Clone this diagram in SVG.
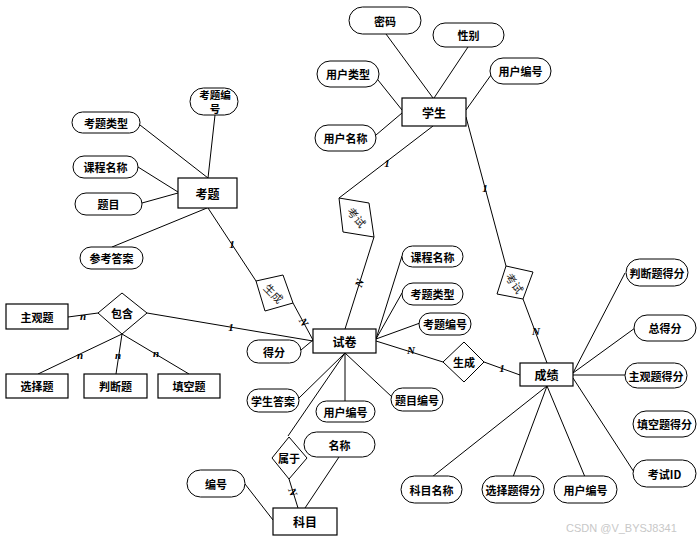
<svg xmlns="http://www.w3.org/2000/svg" width="700" height="541" viewBox="0 0 700 541">
<style>
.ent{fill:#fff;stroke:#000;stroke-width:1.2}
.att{fill:#fff;stroke:#000;stroke-width:1}
.rel{fill:#fff;stroke:#000;stroke-width:1}
.t{font-family:"Noto Sans CJK SC","Liberation Sans",sans-serif;font-size:11px;font-weight:bold;fill:#000;text-anchor:middle;dominant-baseline:central}
.te{font-size:12px}
.ts{font-size:10.5px}
.tr{font-family:"Noto Sans CJK SC","Liberation Sans",sans-serif;font-size:11px;fill:#222;text-anchor:middle;dominant-baseline:central}
.c{font-family:"Liberation Serif",serif;font-style:italic;font-weight:bold;font-size:11px;fill:#000;text-anchor:middle;dominant-baseline:central}
#links line{stroke:#000;stroke-width:1;fill:none}
.wm{font-family:"Liberation Sans",sans-serif;font-size:11px;fill:#c8c8c8}
</style>
<rect width="700" height="541" fill="#fff"/>
<g id="links">
<line x1="386" y1="34" x2="433" y2="98"/>
<line x1="468" y1="47" x2="434" y2="98"/>
<line x1="374" y1="75" x2="402" y2="110"/>
<line x1="376" y1="135" x2="402" y2="113"/>
<line x1="491" y1="75" x2="466" y2="110"/>
<line x1="433" y1="126" x2="339" y2="198"/>
<line x1="374" y1="237" x2="345" y2="329"/>
<line x1="466" y1="117" x2="506" y2="266"/>
<line x1="523" y1="299" x2="547" y2="363"/>
<line x1="215" y1="115" x2="208" y2="178"/>
<line x1="140" y1="125" x2="208" y2="178"/>
<line x1="138" y1="167" x2="178" y2="192"/>
<line x1="142" y1="203" x2="178" y2="193"/>
<line x1="112" y1="247" x2="207" y2="208"/>
<line x1="208" y1="208" x2="256" y2="281"/>
<line x1="293" y1="303" x2="313" y2="340"/>
<line x1="147" y1="313" x2="313" y2="341"/>
<line x1="68" y1="317" x2="98" y2="313"/>
<line x1="122" y1="334" x2="38" y2="374"/>
<line x1="122" y1="334" x2="116" y2="374"/>
<line x1="122" y1="334" x2="189" y2="374"/>
<line x1="301" y1="350" x2="313" y2="340"/>
<line x1="376" y1="339" x2="402" y2="256"/>
<line x1="376" y1="339" x2="402" y2="293"/>
<line x1="376" y1="339" x2="420" y2="323"/>
<line x1="376" y1="341" x2="443" y2="362"/>
<line x1="484" y1="362" x2="520" y2="375"/>
<line x1="345" y1="353" x2="299" y2="398"/>
<line x1="345" y1="353" x2="345" y2="401"/>
<line x1="345" y1="353" x2="392" y2="397"/>
<line x1="345" y1="353" x2="288" y2="436"/>
<line x1="289" y1="479" x2="298" y2="508"/>
<line x1="339" y1="457" x2="305" y2="508"/>
<line x1="245" y1="484" x2="273" y2="520"/>
<line x1="573" y1="373" x2="625" y2="273"/>
<line x1="573" y1="373" x2="635" y2="328"/>
<line x1="573" y1="375" x2="625" y2="375"/>
<line x1="573" y1="378" x2="634" y2="472"/>
<line x1="547" y1="386" x2="432" y2="477"/>
<line x1="547" y1="386" x2="513" y2="477"/>
<line x1="547" y1="386" x2="585" y2="477"/>
<text class="c" x="387" y="163">1</text>
<text class="c" x="359" y="283" transform="rotate(-70 359 283)">N</text>
<text class="c" x="485" y="188">1</text>
<text class="c" x="536" y="331">N</text>
<text class="c" x="232" y="244">1</text>
<text class="c" x="304" y="322" transform="rotate(60 304 322)">N</text>
<text class="c" x="231" y="327">1</text>
<text class="c" x="411" y="350">N</text>
<text class="c" x="502" y="368">1</text>
<text class="c" x="293" y="492" transform="rotate(70 293 492)">N</text>
<text class="c" x="83" y="316">n</text>
<text class="c" x="80" y="355">n</text>
<text class="c" x="118" y="355">n</text>
<text class="c" x="156" y="353">n</text>
</g>
<g id="学生"><rect class="ent" x="402" y="98" width="64" height="28"/><text class="t te" x="434" y="112">学生</text></g>
<g id="考题"><rect class="ent" x="178" y="178" width="59" height="30"/><text class="t te" x="207.5" y="193">考题</text></g>
<g id="试卷"><rect class="ent" x="313" y="329" width="63" height="24"/><text class="t te" x="344.5" y="341">试卷</text></g>
<g id="成绩"><rect class="ent" x="520" y="363" width="53" height="23"/><text class="t te" x="546.5" y="374.5">成绩</text></g>
<g id="科目"><rect class="ent" x="273" y="508" width="64" height="27"/><text class="t te" x="305" y="521.5">科目</text></g>
<g id="主观题"><rect class="ent" x="6" y="304" width="62" height="25"/><text class="t" x="37" y="316.5">主观题</text></g>
<g id="选择题"><rect class="ent" x="6" y="374" width="62" height="24"/><text class="t" x="37" y="386">选择题</text></g>
<g id="判断题"><rect class="ent" x="84" y="374" width="63" height="24"/><text class="t" x="115.5" y="386">判断题</text></g>
<g id="填空题"><rect class="ent" x="158" y="374" width="62" height="24"/><text class="t" x="189" y="386">填空题</text></g>
<g id="包含"><polygon class="rel" points="122,293 147,313 122,334 98,313"/><text class="t" x="122" y="313">包含</text></g>
<g id="生成1"><polygon class="rel" points="256,281 283,275 293,303 265,311"/><text class="tr" x="274" y="293" transform="rotate(45 274 293)">生成</text></g>
<g id="考试1"><polygon class="rel" points="339,198 369,203 374,237 343,232"/><text class="tr" x="357" y="217" transform="rotate(50 357 217)">考试</text></g>
<g id="考试2"><polygon class="rel" points="506,266 533,272 523,299 497,294"/><text class="tr" x="515" y="283" transform="rotate(55 515 283)">考试</text></g>
<g id="生成2"><polygon class="rel" points="464,342 484,362 464,382 443,362"/><text class="t" x="464" y="362">生成</text></g>
<g id="属于"><polygon class="rel" points="289,437 307,458 289,479 272,458"/><text class="t" x="289" y="458">属于</text></g>
<g id="密码"><rect class="att" x="349" y="7" width="72" height="27" rx="13.5"/><text class="t" x="385" y="20.5">密码</text></g>
<g id="性别"><rect class="att" x="433" y="23" width="71" height="24" rx="12"/><text class="t" x="468.5" y="35">性别</text></g>
<g id="用户类型"><rect class="att" x="317" y="61" width="62" height="26" rx="13"/><text class="t" x="348" y="74">用户类型</text></g>
<g id="用户编号1"><rect class="att" x="490" y="58" width="61" height="26" rx="13"/><text class="t" x="520.5" y="71">用户编号</text></g>
<g id="用户名称"><rect class="att" x="315" y="125" width="61" height="26" rx="13"/><text class="t" x="345.5" y="138">用户名称</text></g>
<g id="考题编号1"><rect class="att" x="190" y="88" width="48" height="27" rx="13.5"/><text class="t ts" x="215" y="94"><tspan x="215" y="94">考题编</tspan><tspan x="215" y="108">号</tspan></text></g>
<g id="考题类型1"><rect class="att" x="72" y="112" width="68" height="21" rx="10.5"/><text class="t" x="106" y="122.5">考题类型</text></g>
<g id="课程名称1"><rect class="att" x="73" y="156" width="65" height="22" rx="11"/><text class="t" x="105.5" y="167">课程名称</text></g>
<g id="题目"><rect class="att" x="75" y="193" width="67" height="22" rx="11"/><text class="t" x="108.5" y="204">题目</text></g>
<g id="参考答案"><rect class="att" x="80" y="247" width="63" height="22" rx="11"/><text class="t" x="111.5" y="258">参考答案</text></g>
<g id="课程名称2"><rect class="att" x="402" y="246" width="61" height="21" rx="10.5"/><text class="t" x="432.5" y="256.5">课程名称</text></g>
<g id="考题类型2"><rect class="att" x="402" y="283" width="61" height="22" rx="11"/><text class="t" x="432.5" y="294">考题类型</text></g>
<g id="考题编号2"><rect class="att" x="419" y="313" width="52" height="22" rx="11"/><text class="t" x="445" y="324">考题编号</text></g>
<g id="得分"><rect class="att" x="247" y="340" width="54" height="23" rx="11.5"/><text class="t" x="274" y="351.5">得分</text></g>
<g id="学生答案"><rect class="att" x="247" y="389" width="52" height="23" rx="11.5"/><text class="t" x="273" y="400.5">学生答案</text></g>
<g id="用户编号2"><rect class="att" x="316" y="401" width="59" height="21" rx="10.5"/><text class="t" x="345.5" y="411.5">用户编号</text></g>
<g id="题目编号"><rect class="att" x="391" y="388" width="52" height="23" rx="11.5"/><text class="t" x="417" y="399.5">题目编号</text></g>
<g id="名称"><rect class="att" x="304" y="432" width="71" height="25" rx="12.5"/><text class="t" x="339.5" y="444.5">名称</text></g>
<g id="编号"><rect class="att" x="187" y="470" width="58" height="27" rx="13.5"/><text class="t" x="216" y="483.5">编号</text></g>
<g id="科目名称"><rect class="att" x="401" y="476" width="61" height="27" rx="13.5"/><text class="t" x="431.5" y="489.5">科目名称</text></g>
<g id="选择题得分"><rect class="att" x="482" y="476" width="62" height="27" rx="13.5"/><text class="t" x="513" y="489.5">选择题得分</text></g>
<g id="用户编号3"><rect class="att" x="554" y="476" width="63" height="27" rx="13.5"/><text class="t" x="585.5" y="489.5">用户编号</text></g>
<g id="判断题得分"><rect class="att" x="626" y="259" width="62" height="27" rx="13.5"/><text class="t" x="657" y="272.5">判断题得分</text></g>
<g id="总得分"><rect class="att" x="634" y="315" width="62" height="26" rx="13"/><text class="t" x="665" y="328">总得分</text></g>
<g id="主观题得分"><rect class="att" x="625" y="363" width="62" height="25" rx="12.5"/><text class="t" x="656" y="375.5">主观题得分</text></g>
<g id="填空题得分"><rect class="att" x="633" y="411" width="63" height="26" rx="13"/><text class="t" x="664.5" y="424">填空题得分</text></g>
<g id="考试ID"><rect class="att" x="633" y="460" width="63" height="27" rx="13.5"/><text class="t" x="664.5" y="473.5">考试ID</text></g>
<text class="wm" x="566" y="532">CSDN @V_BYSJ8341</text>
</svg>
